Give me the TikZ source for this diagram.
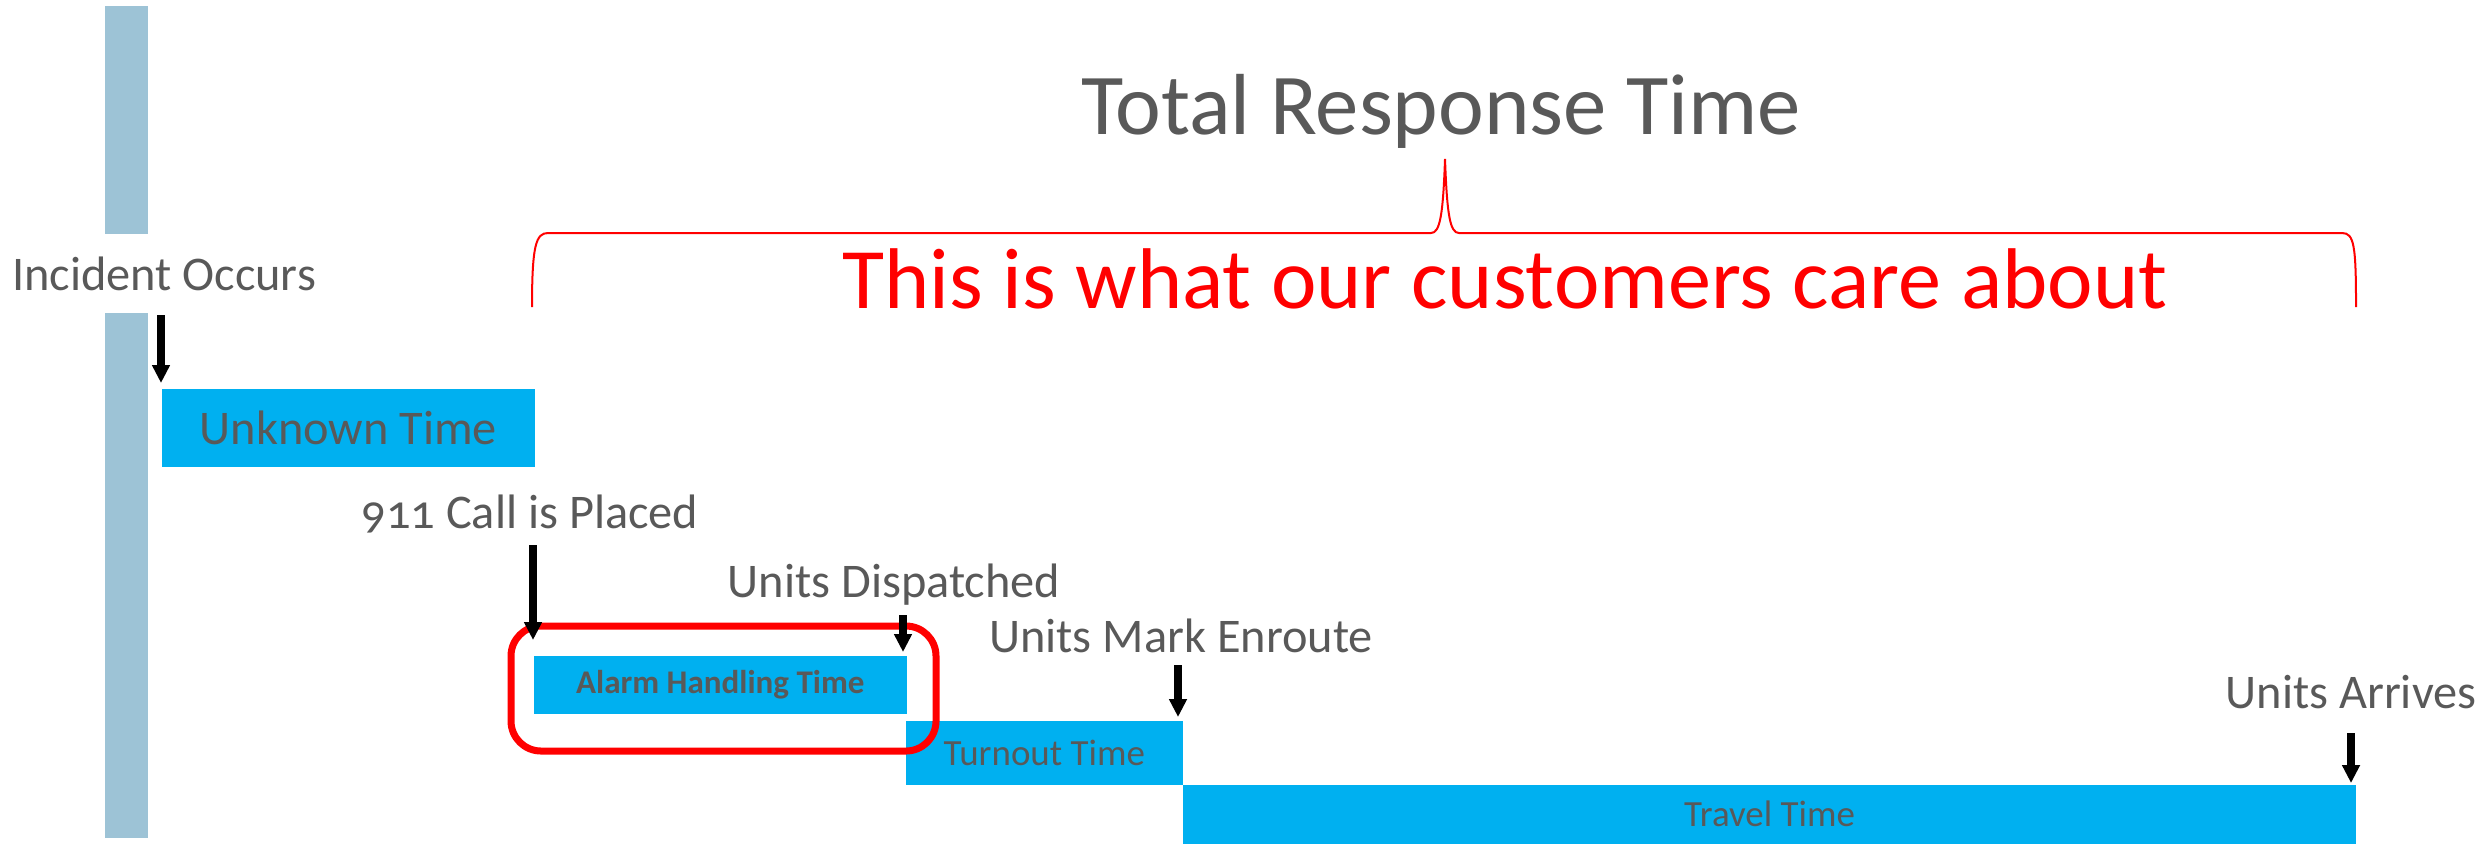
\documentclass[tikz,border=0pt]{standalone}
\usepackage{fontspec}
\setmainfont{Carlito}
\usetikzlibrary{arrows.meta}
\definecolor{barblue}{HTML}{00B0F0}
\definecolor{lineblue}{HTML}{9DC3D6}
\definecolor{txtgray}{HTML}{595959}
\tikzset{
  event/.style={text=txtgray,font=\fontsize{13.75}{16}\selectfont,inner sep=0pt,anchor=base},
  headline/.style={font=\fontsize{24.5}{29}\selectfont,inner sep=0pt,anchor=base},
  span/.style={fill=barblue,text=txtgray,inner sep=0pt,anchor=north west},
  pointer/.style={-{Triangle[length=0.18cm,width=0.17cm]},line width=0.08cm},
}
\begin{document}
\begin{tikzpicture}[x=0.01cm,y=-0.01cm]
\useasboundingbox (0,0) rectangle (2492,847);
\fill[lineblue] (105,6) rectangle (148,234);
\fill[lineblue] (105,313) rectangle (148,838);
\node[headline,text=txtgray,font=\fontsize{24.65}{29}\selectfont] (total) at (1441,134) {Total Response Time};
\node[headline,text=red] (care) at (1505,308) {This is what our customers care about};
\draw[red,line width=0.02cm] (532,307) .. controls (532,245) and (536,233) .. (548,233) -- (1431,233)
  .. controls (1440,233) and (1443,215) .. (1445,159) .. controls (1447,215) and (1450,233) .. (1459,233)
  -- (2342,233) .. controls (2354,233) and (2356,245) .. (2356,307);
\node[event] (incident) at (164,290) {Incident Occurs};
\node[event] (call) at (530,528) {{\addfontfeatures{Numbers=OldStyle}911} Call is Placed};
\node[event] (dispatched) at (894,597) {Units Dispatched};
\node[event] (enroute) at (1181,652) {Units Mark Enroute};
\node[event] (arrives) at (2351,708) {Units Arrives};
\node[span,minimum width=3.73cm,minimum height=0.78cm,font=\fontsize{13.75}{16}\selectfont] (unknown) at (161,388) {Unknown Time};
\node[span,minimum width=3.73cm,minimum height=0.58cm,font=\fontsize{9.4}{11}\selectfont\bfseries] (alarm) at (533,655) {Alarm Handling Time};
\node[span,minimum width=2.77cm,minimum height=0.64cm,font=\fontsize{10.5}{12}\selectfont] (turnout) at (905,720) {Turnout Time};
\node[span,minimum width=11.73cm,minimum height=0.59cm,font=\fontsize{10.5}{12}\selectfont] (travel) at (1182,784) {Travel Time};
\draw[red,line width=0.07cm,rounded corners=0.3cm] (511,626) rectangle (936,751);
\coordinate (incidentTail) at (161,315);
\coordinate (callTail) at (533,545);
\coordinate (dispatchedTail) at (903,615);
\coordinate (enrouteTail) at (1178,665);
\coordinate (arrivesTail) at (2351,733);
\draw[pointer,shorten >=0.05cm] (incidentTail) -- (unknown.north west);
\draw[pointer,shorten >=0.15cm] (callTail) -- (alarm.north west);
\draw[pointer,shorten >=0.03cm] (dispatchedTail) -- (dispatchedTail |- alarm.north);
\draw[pointer,shorten >=0.03cm] (enrouteTail) -- (enrouteTail |- turnout.north);
\draw[pointer,shorten >=0.01cm] (arrivesTail) -- (arrivesTail |- travel.north);
\end{tikzpicture}
\end{document}
